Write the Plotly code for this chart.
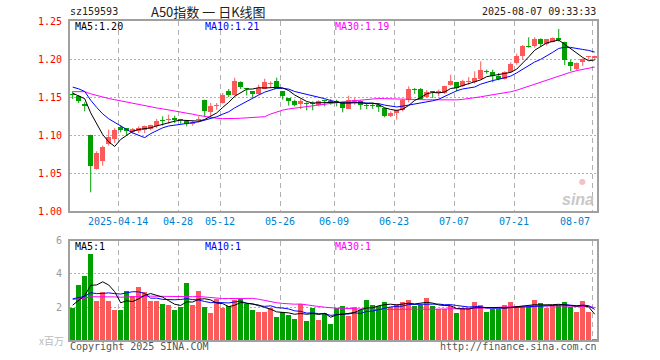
import plotly.graph_objects as go
import numpy as np

dates = ["04-01","04-02","04-03","04-07","04-08","04-09","04-10","04-11","04-14","04-15",
         "04-16","04-17","04-18","04-21","04-22","04-23","04-24","04-25","04-28","04-29",
         "04-30","05-06","05-07","05-08","05-09","05-12","05-13","05-14","05-15","05-16",
         "05-19","05-20","05-21","05-22","05-23","05-26","05-27","05-28","05-29","05-30",
         "06-03","06-04","06-05","06-06","06-09","06-10","06-11","06-12","06-13","06-16",
         "06-17","06-18","06-19","06-20","06-23","06-24","06-25","06-26","06-27","06-30",
         "07-01","07-02","07-03","07-04","07-07","07-08","07-09","07-10","07-11","07-14",
         "07-15","07-16","07-17","07-18","07-21","07-22","07-23","07-24","07-25","07-28",
         "07-29","07-30","07-31","08-01","08-04","08-05","08-06","08-07"]

open_ = [1.154,1.1518,1.1412,1.1004,1.0557,1.0654,1.0886,1.0952,1.110,1.1092,
         1.1035,1.1048,1.1061,1.1083,1.112,1.1195,1.1193,1.1219,1.1202,1.1189,
         1.1140,1.1193,1.1465,1.1298,1.1377,1.1421,1.1575,1.1531,1.1693,1.1610,
         1.1575,1.1544,1.1605,1.1667,1.1706,1.1575,1.1487,1.1443,1.1412,1.1417,
         1.1412,1.1399,1.1447,1.1452,1.1443,1.1434,1.1346,1.1434,1.1443,1.1390,
         1.1390,1.1399,1.1355,1.1254,1.1289,1.1325,1.1456,1.1592,1.1605,1.150,
         1.1566,1.1553,1.1553,1.1662,1.1693,1.164,1.1693,1.1697,1.1737,1.1833,
         1.1833,1.1781,1.1737,1.1829,1.1945,1.2044,1.2167,1.2175,1.2263,1.2197,
         1.2228,1.2272,1.2228,1.1956,1.1864,1.1956,1.2026,1.2009]
high = [1.1575,1.1525,1.143,1.1004,1.0785,1.0860,1.107,1.109,1.1127,1.1092,
        1.1092,1.1114,1.1123,1.1136,1.121,1.1246,1.1268,1.1254,1.1211,1.1189,
        1.1184,1.1246,1.1465,1.1421,1.1421,1.1553,1.1605,1.1754,1.1706,1.1610,
        1.1575,1.1662,1.1741,1.1706,1.1754,1.1575,1.1487,1.1465,1.1474,1.143,
        1.1443,1.1456,1.1465,1.1474,1.1465,1.1443,1.1518,1.1487,1.1456,1.1421,
        1.1421,1.1421,1.1355,1.1311,1.1333,1.1474,1.164,1.1618,1.1618,1.159,
        1.1566,1.1597,1.1649,1.1794,1.1693,1.1728,1.1763,1.1838,1.1969,1.186,
        1.186,1.1816,1.1838,1.1956,1.207,1.2184,1.2285,1.2285,1.2272,1.2263,
        1.2285,1.2395,1.2228,1.1987,1.1952,1.2009,1.2039,1.2044]
low = [1.1474,1.1421,1.1311,1.0246,1.0544,1.0597,1.086,1.0895,1.1035,1.099,
       1.1018,1.1026,1.1026,1.1061,1.109,1.1123,1.1149,1.1158,1.1149,1.1114,
       1.1123,1.1167,1.1246,1.1246,1.1333,1.1412,1.15,1.1518,1.1605,1.1522,
       1.1487,1.1531,1.1605,1.1618,1.1605,1.1465,1.1386,1.1377,1.1342,1.1325,
       1.1325,1.1377,1.1377,1.1399,1.1377,1.1298,1.1346,1.1399,1.1333,1.1342,
       1.1342,1.1303,1.1232,1.1237,1.1202,1.1311,1.143,1.1540,1.1474,1.149,
       1.1487,1.1509,1.1540,1.1649,1.1575,1.1632,1.1662,1.1675,1.1728,1.1807,
       1.1693,1.1719,1.1728,1.1816,1.1925,1.1987,1.2149,1.2149,1.2162,1.2175,
       1.2219,1.2228,1.1921,1.1842,1.1846,1.1908,1.1987,1.20]
close = [1.153,1.1452,1.1377,1.0596,1.0763,1.0842,1.0974,1.107,1.1061,1.1057,
         1.1083,1.1092,1.1114,1.1127,1.118,1.119,1.1211,1.1202,1.1193,1.1149,
         1.1167,1.1202,1.1311,1.1386,1.1386,1.1531,1.1531,1.1715,1.1632,1.1605,
         1.1544,1.1618,1.1693,1.1675,1.1605,1.1509,1.1443,1.1399,1.1443,1.1412,
         1.1408,1.1443,1.1443,1.1421,1.1439,1.1355,1.1465,1.1465,1.1399,1.1386,
         1.1386,1.1364,1.1254,1.1289,1.1325,1.1465,1.161,1.1588,1.1474,1.157,
         1.1562,1.1575,1.1649,1.1706,1.1618,1.1706,1.1702,1.175,1.1851,1.1829,
         1.1781,1.1741,1.1829,1.1939,1.2044,1.2171,1.2162,1.2263,1.2197,1.2263,
         1.2272,1.225,1.1987,1.1912,1.1952,1.20,1.2031,1.2044]
# volume, millions
volume = [1.96,3.32,3.86,5.18,2.36,2.9,2.36,1.84,1.84,2.96,
          2.66,3.2,2.9,2.36,2.36,2.18,2.12,1.84,2.0,3.44,
          2.12,2.96,2.0,1.64,2.5,1.94,2.06,2.42,2.48,2.2,
          1.82,1.7,1.7,1.94,1.4,1.7,1.52,1.28,2.18,1.16,
          1.94,1.22,1.64,0.98,1.92,2.06,1.46,1.98,1.82,2.42,
          2.12,2.06,2.3,1.98,2.18,2.3,2.42,2.06,2.12,2.54,
          2.06,1.88,1.88,2.06,1.64,1.94,1.88,2.3,2.12,1.7,
          1.88,1.88,2.12,2.3,2.0,2.0,2.0,2.42,2.24,1.94,
          2.12,2.12,2.3,2.0,1.7,2.36,1.7,0.08]
# estimated closes / volumes of the 29 sessions before the window (for the moving averages)
prior_close = [1.140,1.142,1.145,1.148,1.150,1.147,1.152,1.155,1.158,1.156,
               1.153,1.157,1.160,1.158,1.155,1.159,1.162,1.160,1.163,1.160,
               1.168,1.172,1.175,1.171,1.169,1.162,1.157,1.153,1.150]
prior_volume = [2.3,2.5,2.6,2.4,2.2,2.5,2.7,2.4,2.3,2.6,
                2.5,2.4,2.3,2.6,2.5,2.4,2.3,2.4,2.5,2.4,
                2.6,3.1,3.0,2.9,2.8,2.0,2.3,2.1,2.24]

tick_dates = ["04-14","04-28","05-12","05-26","06-09","06-23","07-07","07-21","08-07"]
tick_labels = ["2025-04-14","04-28","05-12","05-26","06-09","06-23","07-07","07-21","08-07"]

W, H = 660, 360
def px(x): return x / W
def py(y): return 1 - y / H

n = len(close)
xi = np.arange(n)
o = np.array(open_); c = np.array(close); h = np.array(high); l = np.array(low)
up = c >= o

def ma(series, prior, k):
    allv = np.array(prior + series, dtype=float)
    p = len(prior)
    return [allv[p + i - k + 1: p + i + 1].mean() for i in range(len(series))]

RED = "#fa5a5a"
GREEN = "#00a000"
MONO = "DejaVu Sans Mono"

fig = go.Figure()

# wicks
for mask, col in [(up, RED), (~up, GREEN)]:
    wx, wy = [], []
    for i in xi[mask]:
        wx += [i, i, None]
        wy += [l[i], h[i], None]
    fig.add_trace(go.Scatter(x=wx, y=wy, mode="lines", line=dict(color=col, width=1),
                             xaxis="x", yaxis="y", hoverinfo="skip"))
# bodies
for mask, col in [(up, RED), (~up, GREEN)]:
    base = np.minimum(o, c)[mask]
    hgt = np.maximum(np.abs(c - o)[mask], 0.0013)
    fig.add_trace(go.Bar(x=xi[mask], y=hgt, base=base, width=0.8,
                         marker=dict(color=col, line=dict(width=0)),
                         xaxis="x", yaxis="y", hoverinfo="skip"))

# price MAs
for k, col in [(30, "#ff00ff"), (10, "#0000ff"), (5, "#000000")]:
    fig.add_trace(go.Scatter(x=xi, y=ma(close, prior_close, k), mode="lines",
                             line=dict(color=col, width=1), xaxis="x", yaxis="y",
                             hoverinfo="skip"))

# volume bars
v = np.array(volume)
for mask, col in [(up, RED), (~up, GREEN)]:
    fig.add_trace(go.Bar(x=xi[mask], y=v[mask], width=0.8,
                         marker=dict(color=col, line=dict(width=0)),
                         xaxis="x2", yaxis="y2", hoverinfo="skip"))
for k, col in [(30, "#ff00ff"), (10, "#0000ff"), (5, "#000000")]:
    fig.add_trace(go.Scatter(x=xi, y=ma(volume, prior_volume, k), mode="lines",
                             line=dict(color=col, width=1), xaxis="x2", yaxis="y2",
                             hoverinfo="skip"))

grid_x = [dates.index(d) - 0.4 for d in tick_dates]
xr = [-0.45, n - 1 + 0.38]
xdom = [px(70), px(597)]

axis_common = dict(showline=True, mirror=True, linecolor="#a0a0a0", linewidth=2,
                   zeroline=False, fixedrange=True, automargin=False)

fig.update_layout(
    width=W, height=H, margin=dict(l=0, r=0, t=0, b=0, pad=0, autoexpand=False),
    paper_bgcolor="white", plot_bgcolor="white", showlegend=False,
    barmode="overlay", bargap=0,
    xaxis=dict(domain=xdom, range=xr, anchor="y", tickvals=grid_x, showticklabels=False,
               ticks="", showgrid=True, gridcolor="#b0b0b0", griddash="5px,4px",
               gridwidth=1, **axis_common),
    yaxis=dict(domain=[py(211), py(21)], range=[1.0, 1.25], anchor="x",
               tickvals=[1.00, 1.05, 1.10, 1.15, 1.20, 1.25],
               ticktext=["1.00", "1.05", "1.10", "1.15", "1.20", "1.25"],
               tickfont=dict(family=MONO, size=10, color="#ff0000"),
               ticks="", ticklabelstandoff=4,
               showgrid=True, gridcolor="#b0b0b0", griddash="2px,2px", gridwidth=1,
               **axis_common),
    xaxis2=dict(domain=xdom, range=xr, anchor="y2", tickvals=grid_x, showticklabels=False,
                ticks="", showgrid=True, gridcolor="#b0b0b0", griddash="5px,4px",
                gridwidth=1, **axis_common),
    yaxis2=dict(domain=[py(340.3), py(240.7)], range=[0, 6], anchor="x2",
                tickvals=[2, 4, 6], ticktext=["2", "4", "6"],
                tickfont=dict(family=MONO, size=10, color="#999999"),
                ticks="", ticklabelstandoff=4,
                showgrid=True, gridcolor="#b0b0b0", griddash="2px,2px", gridwidth=1,
                **axis_common),
)

ann = []
def text(x, y, s, color="#000000", size=10, family=MONO, xanchor="left", **kw):
    ann.append(dict(x=px(x), y=py(y), xref="paper", yref="paper", text=s, showarrow=False,
                    xanchor=xanchor, yanchor="middle",
                    font=dict(family=family, size=size, color=color), **kw))

text(68, 12, "sz159593", "#222222")
text(149, 12, "A50指数 一 日K线图", "#222222", size=13, family="Noto Sans CJK SC")
text(598, 12, "2025-08-07 09:33:33", "#222222", xanchor="right")
text(73, 27, "MA5:1.20", "#000000")
text(203, 27, "MA10:1.21", "#0000ff")
text(333, 27, "MA30:1.19", "#ff00ff")
text(73, 246, "MA5:1", "#000000")
text(203, 246, "MA10:1", "#0000ff")
text(333, 246, "MA30:1", "#ff00ff")
text(66, 340, "x百万", "#bbbbbb", size=10, family="Noto Sans CJK SC", xanchor="right")
text(68, 346, "Copyright 2025 SINA.COM", "#555555")
text(599, 346, "http://finance.sina.com.cn", "#555555", xanchor="right")
text(578, 199, "<b><i>sina</i></b>", "#c8c8c8", size=16, family="Liberation Sans", xanchor="center")
text(582, 181, "●", "#f5c0c0", size=8, family="DejaVu Sans", xanchor="center")

for i, (d, lab) in enumerate(zip(tick_dates, tick_labels)):
    last = i == len(tick_dates) - 1
    ann.append(dict(x=dates.index(d) - 0.4, y=py(221.5), xref="x", yref="paper", text=lab,
                    showarrow=False, xanchor="right" if last else "center", yanchor="middle",
                    font=dict(family=MONO, size=10, color="#0080d0")))

fig.update_layout(annotations=ann)
fig.write_html("out.html", config={"displayModeBar": False, "staticPlot": True},
               post_script="document.body.style.margin='0px';document.body.style.overflow='hidden';")
